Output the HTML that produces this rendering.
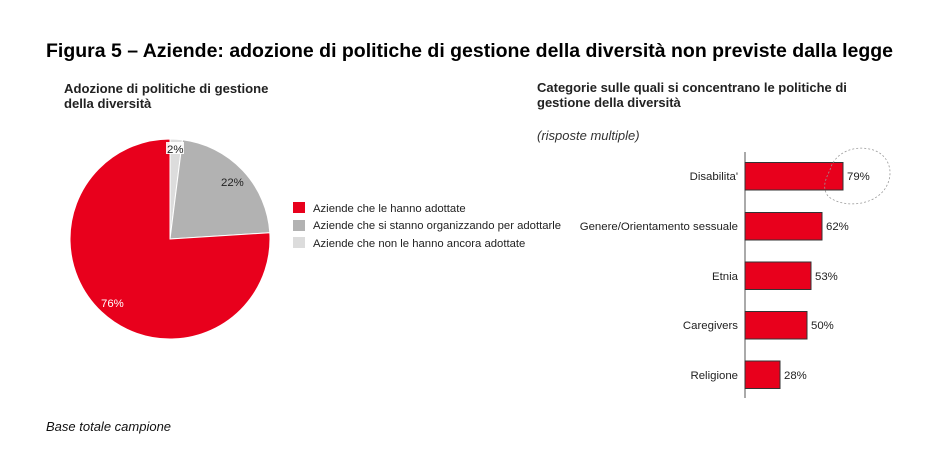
<!DOCTYPE html>
<html><head><meta charset="utf-8"><style>
html,body{margin:0;padding:0;background:#fff;}
svg{display:block;font-family:"Liberation Sans",Arial,sans-serif;}
</style></head><body>
<svg width="938" height="454" viewBox="0 0 938 454" xmlns="http://www.w3.org/2000/svg">
<text x="46" y="57" font-size="19.5" font-weight="bold" fill="#000" textLength="847" lengthAdjust="spacingAndGlyphs">Figura 5 – Aziende: adozione di politiche di gestione della diversità non previste dalla legge</text>
<text x="64" y="93" font-size="13.1" font-weight="bold" fill="#222">Adozione di politiche di gestione</text>
<text x="64" y="108" font-size="13.1" font-weight="bold" fill="#222">della diversità</text>
<text x="537" y="92" font-size="13" font-weight="bold" fill="#222">Categorie sulle quali si concentrano le politiche di</text>
<text x="537" y="107" font-size="13" font-weight="bold" fill="#222">gestione della diversità</text>
<text x="537" y="140" font-size="13" font-style="italic" fill="#333">(risposte multiple)</text>
<text x="46" y="431" font-size="13" font-style="italic" fill="#111">Base totale campione</text>

<!-- pie -->
<path d="M170,239 L170,139 A100,100 0 0 1 182.5,139.8 Z" fill="#dcdcdc" stroke="#fff" stroke-width="1"/>
<path d="M170,239 L182.5,139.8 A100,100 0 0 1 269.8,232.7 Z" fill="#b2b2b2" stroke="#fff" stroke-width="1"/>
<path d="M170,239 L269.8,232.7 A100,100 0 1 1 170,139 Z" fill="#e8001c" stroke="#fff" stroke-width="1"/>
<rect x="166" y="142" width="18" height="12" fill="#fff" opacity="0.9"/>
<text x="167" y="153" font-size="11.4" fill="#222">2%</text>
<text x="221" y="186" font-size="11.4" fill="#222">22%</text>
<text x="101" y="307" font-size="11.4" fill="#fff">76%</text>

<rect x="293" y="202" width="12" height="11" fill="#e8001c"/>
<rect x="293" y="220" width="12" height="11" fill="#b2b2b2"/>
<rect x="293" y="237" width="12" height="11" fill="#dcdcdc"/>
<text x="313" y="212" font-size="11.3" fill="#222">Aziende che le hanno adottate</text>
<text x="313" y="229" font-size="11.3" fill="#222">Aziende che si stanno organizzando per adottarle</text>
<text x="313" y="247" font-size="11.3" fill="#222">Aziende che non le hanno ancora adottate</text>

<!-- bars -->
<line x1="745" y1="152" x2="745" y2="398" stroke="#555" stroke-width="1"/>
<g fill="#e8001c" stroke="#333" stroke-width="1">
<rect x="745" y="162.5" width="98" height="27.5"/>
<rect x="745" y="212.5" width="77" height="27.5"/>
<rect x="745" y="262" width="66" height="27.5"/>
<rect x="745" y="311.5" width="62" height="27.5"/>
<rect x="745" y="361" width="35" height="27.5"/>
</g>
<g font-size="11.4" fill="#222" text-anchor="end">
<text x="738" y="180">Disabilita'</text>
<text x="738" y="230">Genere/Orientamento sessuale</text>
<text x="738" y="280">Etnia</text>
<text x="738" y="329">Caregivers</text>
<text x="738" y="379">Religione</text>
</g>
<g font-size="11.4" fill="#222">
<text x="847" y="180">79%</text>
<text x="826" y="230">62%</text>
<text x="815" y="280">53%</text>
<text x="811" y="329">50%</text>
<text x="784" y="379">28%</text>
</g>
<path d="M830,170 C835,150 860,143 878,152 C895,162 893,185 878,196 C865,206 840,207 828,196 C822,188 825,180 830,170 Z" fill="none" stroke="#999" stroke-width="0.8" stroke-dasharray="2,2"/>
</svg>
</body></html>
